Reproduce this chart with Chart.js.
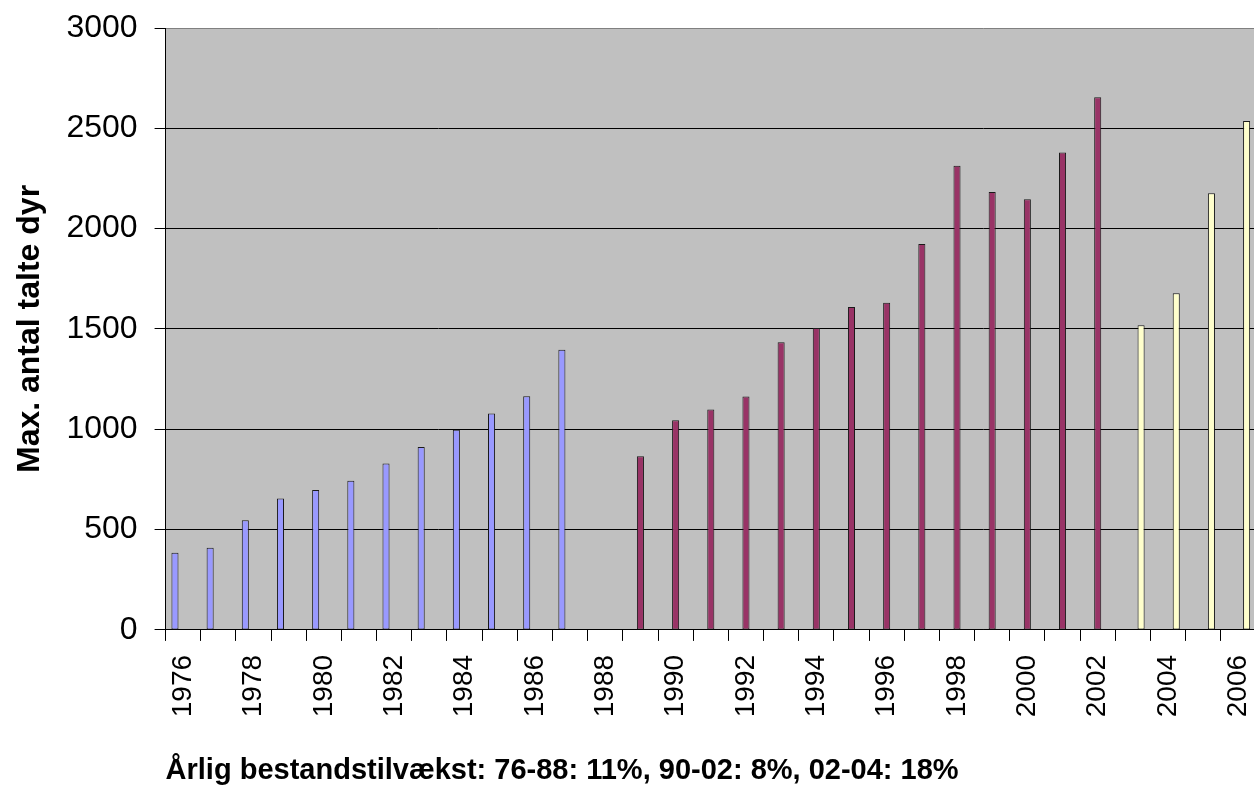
<!DOCTYPE html>
<html>
<head>
<meta charset="utf-8">
<script src="https://cdn.jsdelivr.net/npm/chart.js@4.4.1/dist/chart.umd.min.js"></script>
<style>
  html, body { margin: 0; padding: 0; background: #fff; overflow: hidden; }
  /* the original plot runs off the right edge, so the canvas is a bit wider than the view */
  #wrap { width: 1254px; height: 788px; overflow: hidden; }
</style>
</head>
<body>
<div id="wrap"><canvas id="chart" width="1286" height="788"></canvas></div>
<script>
// years on the category axis
const years = ['1976', '1977', '1978', '1979', '1980', '1981', '1982', '1983', '1984', '1985',
  '1986', '1987', '1988', '1989', '1990', '1991', '1992', '1993', '1994', '1995',
  '1996', '1997', '1998', '1999', '2000', '2001', '2002', '2003', '2004', '2005', '2006'];

// three periods of counts, null where the period has no bar
const counts7688 = [385, 409, 547, 655, 697, 744, 829, 912, 998, 1079, 1164, 1396, null,
  null, null, null, null, null, null, null, null, null, null, null, null, null, null,
  null, null, null, null];
const counts8902 = [null, null, null, null, null, null, null, null, null, null, null, null, null,
  866, 1045, 1098, 1163, 1434, 1505, 1609, 1630, 1924, 2313, 2182, 2147, 2379, 2655,
  null, null, null, null];
const counts0306 = [null, null, null, null, null, null, null, null, null, null, null, null, null,
  null, null, null, null, null, null, null, null, null, null, null, null, null, null,
  1519, 1678, 2176, 2536];

const yTicks = [0, 500, 1000, 1500, 2000, 2500, 3000];

const yTitle = 'Max. antal talte dyr';
const xTitle = 'Årlig bestandstilvækst: 76-88: 11%, 90-02: 8%, 02-04: 18%';

const FONT = "'Liberation Sans', Arial, sans-serif";

// grey plot area like the old spreadsheet chart
const plotBackground = {
    id: 'plotBackground',
    beforeDraw(chart) {
        const { ctx, chartArea } = chart;
        ctx.save();
        ctx.fillStyle = '#c0c0c0';
        ctx.fillRect(chartArea.left, chartArea.top, chartArea.right - chartArea.left, chartArea.bottom - chartArea.top);
        ctx.restore();
    }
};

const barStyle = {
    borderColor: '#1a1a1a',
    borderWidth: 1,
    categoryPercentage: 0.7,
    barPercentage: 0.86,
    borderSkipped: false
};

new Chart(document.getElementById('chart'), {
    type: 'bar',
    data: {
        labels: years,
        datasets: [
            { label: '76-88', data: counts7688, backgroundColor: '#9999ff', ...barStyle },
            { label: '89-02', data: counts8902, backgroundColor: '#993366', ...barStyle },
            { label: '03-06', data: counts0306, backgroundColor: '#ffffcc', ...barStyle }
        ]
    },
    options: {
        responsive: false,
        animation: false,
        layout: { padding: { top: 0, right: 0, left: 11, bottom: 0 } },
        plugins: {
            legend: { display: false },
            tooltip: { enabled: false }
        },
        scales: {
            x: {
                grid: {
                    offset: true,
                    drawOnChartArea: false,
                    drawTicks: true,
                    tickLength: 11,
                    color: '#000'
                },
                border: { color: '#000', width: 1 },
                ticks: {
                    autoSkip: false,
                    minRotation: 90,
                    maxRotation: 90,
                    padding: 14,
                    color: '#000',
                    font: { family: FONT, size: 28 },
                    callback: (val, i) => (i % 2 === 0 ? years[i] : '')
                },
                title: {
                    display: true,
                    text: xTitle,
                    align: 'start',
                    color: '#000',
                    font: { family: FONT, size: 29, weight: 'bold' },
                    padding: { top: 22, bottom: 0 }
                }
            },
            y: {
                min: 0,
                max: 3000,
                afterBuildTicks: (axis) => { axis.ticks = yTicks.map(v => ({ value: v })); },
                // keep the top of the plot close to the canvas edge
                afterFit: (axis) => { axis.paddingTop = 28; axis.paddingBottom = 0; },
                grid: {
                    color: (ctx) => (ctx.tick && ctx.tick.value === 3000 ? '#808080' : '#000'),
                    tickColor: '#000',
                    tickLength: 11,
                    lineWidth: 1
                },
                border: { color: '#000', width: 1 },
                ticks: {
                    padding: 17,
                    color: '#000',
                    font: { family: FONT, size: 32 },
                    callback: (v) => String(v)
                },
                title: {
                    display: true,
                    text: yTitle,
                    color: '#000',
                    font: { family: FONT, size: 32, weight: 'bold' },
                    padding: { top: 0, bottom: 0 }
                }
            }
        }
    },
    plugins: [plotBackground]
});
</script>
</body>
</html>
